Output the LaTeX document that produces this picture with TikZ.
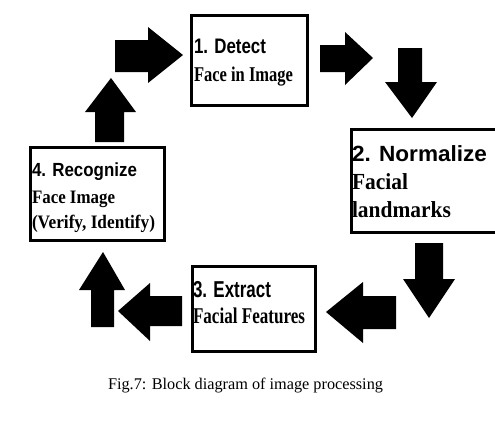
\documentclass[tikz,border=0pt]{standalone}
\usepackage{fontspec}
\usepackage{graphicx}
\setmainfont{Liberation Serif}
\newfontfamily\headfont{Liberation Sans}
\tikzset{
  blockbox/.style={draw=black, line width=3pt, inner sep=0pt, fill=white},
  txt/.style={anchor=base west, inner sep=0pt, outer sep=0pt},
  blockarrow/.style={fill=black, draw=none}
}
\newcommand\headtxt[3]{\resizebox{#2pt}{\height}{\fontsize{#1}{#1}\headfont\bfseries #3}}
\newcommand\bodytxt[3]{\resizebox{#2pt}{\height}{\fontsize{#1}{#1}\selectfont\bfseries #3}}
\begin{document}
\begin{tikzpicture}[x=1pt,y=-1pt]
\useasboundingbox (0,0) rectangle (495,437);
% boxes
\node[blockbox, minimum width=116pt, minimum height=90pt] (detect) at (249.5,60.5) {};
\node[blockbox, minimum width=144.5pt, minimum height=103pt] (normalize) at (423.75,181) {};
\node[blockbox, minimum width=123pt, minimum height=85pt] (extract) at (254,309) {};
\node[blockbox, minimum width=134pt, minimum height=93pt] (recognize) at (97.5,194) {};
% texts
\node[txt] (t1a) at (194,53) {\headtxt{21}{72}{1. Detect}};
\node[txt] (t1b) at (194,81) {\bodytxt{21}{99}{Face in Image}};
\node[txt] (t2a) at (352,161) {\headtxt{22}{135}{2. Normalize}};
\node[txt] (t2b) at (352,189) {\bodytxt{23}{56}{Facial}};
\node[txt] (t2c) at (352,217) {\bodytxt{23}{99}{landmarks}};
\node[txt] (t3a) at (193,297) {\headtxt{23}{78}{3. Extract}};
\node[txt] (t3b) at (193,323) {\bodytxt{22.5}{112}{Facial Features}};
\node[txt] (t4a) at (32,176) {\headtxt{19}{105}{4. Recognize}};
\node[txt] (t4b) at (32,203) {\bodytxt{19}{83}{Face Image}};
\node[txt] (t4c) at (32,228) {\bodytxt{19}{123}{(Verify, Identify)}};
% caption
\node[txt] (cap) at (108,389) {\resizebox{275pt}{\height}{\fontsize{16.3}{16.3}\selectfont Fig.7: Block diagram of image processing}};
% block arrows
% A: into Detect (right)
\fill[blockarrow] (115,40) -- (148,40) -- (148,27) -- (183,55) -- (148,83) -- (148,72) -- (115,72) -- cycle;
% B: out of Detect (right)
\fill[blockarrow] (320,45) -- (345,45) -- (345,32) -- (373,58) -- (345,85) -- (345,72) -- (320,72) -- cycle;
% C: into Normalize (down)
\fill[blockarrow] (398,48) -- (422,48) -- (422,82) -- (437,82) -- (412,118) -- (385,82) -- (398,82) -- cycle;
% D: out of Normalize (down)
\fill[blockarrow] (415,243) -- (443,243) -- (443,279) -- (455,279) -- (429,318) -- (403,279) -- (415,279) -- cycle;
% E: into Extract (left)
\fill[blockarrow] (396,296) -- (363,296) -- (363,282) -- (326,312) -- (363,343) -- (363,329) -- (396,329) -- cycle;
% F: out of Extract (left)
\fill[blockarrow] (182,296) -- (150,296) -- (150,283) -- (118,311) -- (150,341) -- (150,326) -- (182,326) -- cycle;
% G: into Recognize (up)
\fill[blockarrow] (91,327) -- (91,290) -- (79,290) -- (103,252) -- (125,290) -- (114,290) -- (114,327) -- cycle;
% H: out of Recognize (up)
\fill[blockarrow] (95,142) -- (95,112) -- (85,112) -- (111,78) -- (136,112) -- (124,112) -- (124,142) -- cycle;
\end{tikzpicture}
\end{document}
